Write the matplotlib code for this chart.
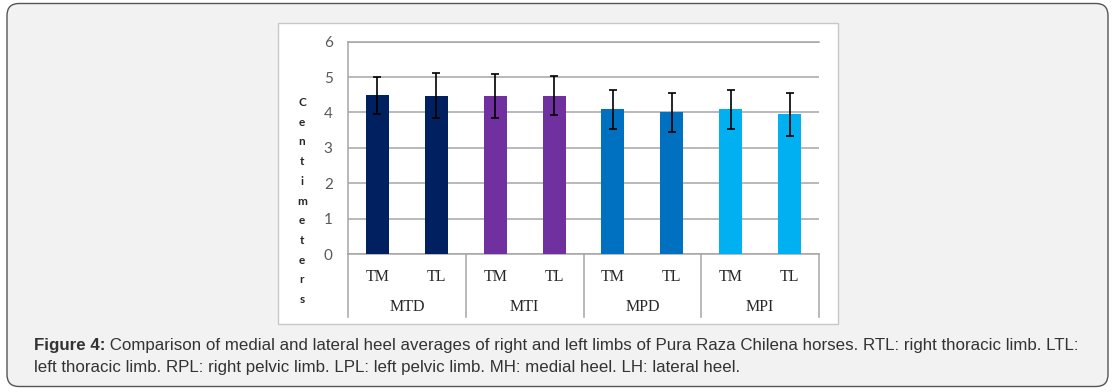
import matplotlib
matplotlib.use("Agg")
import matplotlib.pyplot as plt
from matplotlib.patches import FancyBboxPatch, Rectangle
import matplotlib.transforms as mtransforms

# ---- data ----
groups = ["MTD", "MTI", "MPD", "MPI"]
subs = ["TM", "TL"]
means = [4.49, 4.47, 4.47, 4.47, 4.09, 4.01, 4.09, 3.95]
errs = [0.52, 0.64, 0.62, 0.55, 0.55, 0.55, 0.55, 0.61]
group_colors = ["#002060", "#7030A0", "#0070C0", "#00B0F0"]
yticks = [0, 1, 2, 3, 4, 5, 6]
ylabel = "Centimeters"
caption_bold = "Figure 4:"
caption_line1 = ("Comparison of medial and lateral heel averages of right and left limbs of "
                 "Pura Raza Chilena horses. RTL: right thoracic limb. LTL:")
caption_line2 = ("left thoracic limb. RPL: right pelvic limb. LPL: left pelvic limb. "
                 "MH: medial heel. LH: lateral heel.")

W, H, DPI = 1116, 392, 100
fig = plt.figure(figsize=(W / DPI, H / DPI), dpi=DPI)
fig.patch.set_facecolor("white")

def fx(px):
    return px / W

def fy(py):
    return (H - py) / H

# outer rounded frame
outer = FancyBboxPatch((7 / DPI, (H - 386.5) / DPI), (1108 - 7) / DPI, (386.5 - 3.5) / DPI,
                       boxstyle="round,pad=0,rounding_size=0.12",
                       transform=fig.dpi_scale_trans, facecolor="#f2f2f2",
                       edgecolor="#555555", linewidth=1.0, zorder=0)
fig.patches.append(outer)

# white chart box
chart_box = Rectangle((fx(278), fy(323.5)), fx(838) - fx(278), fy(23) - fy(323.5),
                      transform=fig.transFigure, facecolor="white",
                      edgecolor="#c8c8c8", linewidth=1.0, zorder=1)
fig.patches.append(chart_box)

# axes
left, right = fx(348), fx(819)
bottom, top = fy(254), fy(41.7)
ax = fig.add_axes([left, bottom, right - left, top - bottom])
ax.set_facecolor("none")
ax.set_zorder(2)

n = len(groups) * len(subs)
xs = list(range(n))
colors = [group_colors[i // len(subs)] for i in range(n)]
ax.bar(xs, means, width=0.39, color=colors, zorder=3)
ax.errorbar(xs, means, yerr=errs, fmt="none", ecolor="black", elinewidth=1.2,
            capsize=3.2, capthick=1.2, zorder=4)

ax.set_xlim(-0.5, n - 0.5)
ax.set_ylim(0, 6)
ax.set_yticks(yticks)
ax.set_yticklabels([str(v) for v in yticks], fontfamily="Lato", fontsize=11, color="#595959")
ax.tick_params(axis="y", length=0, pad=11)
ax.set_xticks([])
ax.yaxis.grid(True, color="#a6a6a6", linewidth=1.1, zorder=1)
ax.set_axisbelow(True)
for s in ["top", "left", "bottom"]:
    ax.spines[s].set_color("#a6a6a6")
    ax.spines[s].set_linewidth(1.1)
ax.spines["right"].set_visible(False)

# category table below axis
trans = mtransforms.blended_transform_factory(ax.transData, ax.transAxes)
ybot = -0.2967
for k in range(len(groups) + 1):
    xv = -0.5 + k * len(subs)
    ax.plot([xv, xv], [0, ybot], transform=trans, color="#a6a6a6", lw=1.1,
            clip_on=False, zorder=2)
for i in range(n):
    ax.text(xs[i], -0.107, subs[i % len(subs)], transform=trans, ha="center", va="center",
            fontfamily="Liberation Serif", fontsize=11.5, color="#262626")
for g, name in enumerate(groups):
    xc = g * len(subs) + (len(subs) - 1) / 2
    ax.text(xc, -0.25, name, transform=trans, ha="center", va="center",
            fontfamily="Liberation Serif", fontsize=11.5, color="#262626")

# vertical stacked y label
fig.text(fx(302), fy(201), "\n".join(ylabel), ha="center", va="center",
         multialignment="center", fontfamily="Lato", fontweight="bold",
         fontsize=8.5, color="#262626", linespacing=1.97, zorder=3)

# caption
cap_kw = dict(fontfamily="Liberation Sans", fontsize=12.2, color="#333333")
t1 = fig.text(fx(34), fy(350), caption_bold, ha="left", va="baseline",
              fontweight="bold", zorder=3, **cap_kw)
plt.annotate(" " + caption_line1, xy=(1, fy(350)), xycoords=(t1, "figure fraction"),
             ha="left", va="baseline", annotation_clip=False, **cap_kw)
fig.text(fx(34), fy(371.7), caption_line2, ha="left", va="baseline", zorder=3, **cap_kw)

fig.savefig("out.png", dpi=DPI, facecolor=fig.get_facecolor())
